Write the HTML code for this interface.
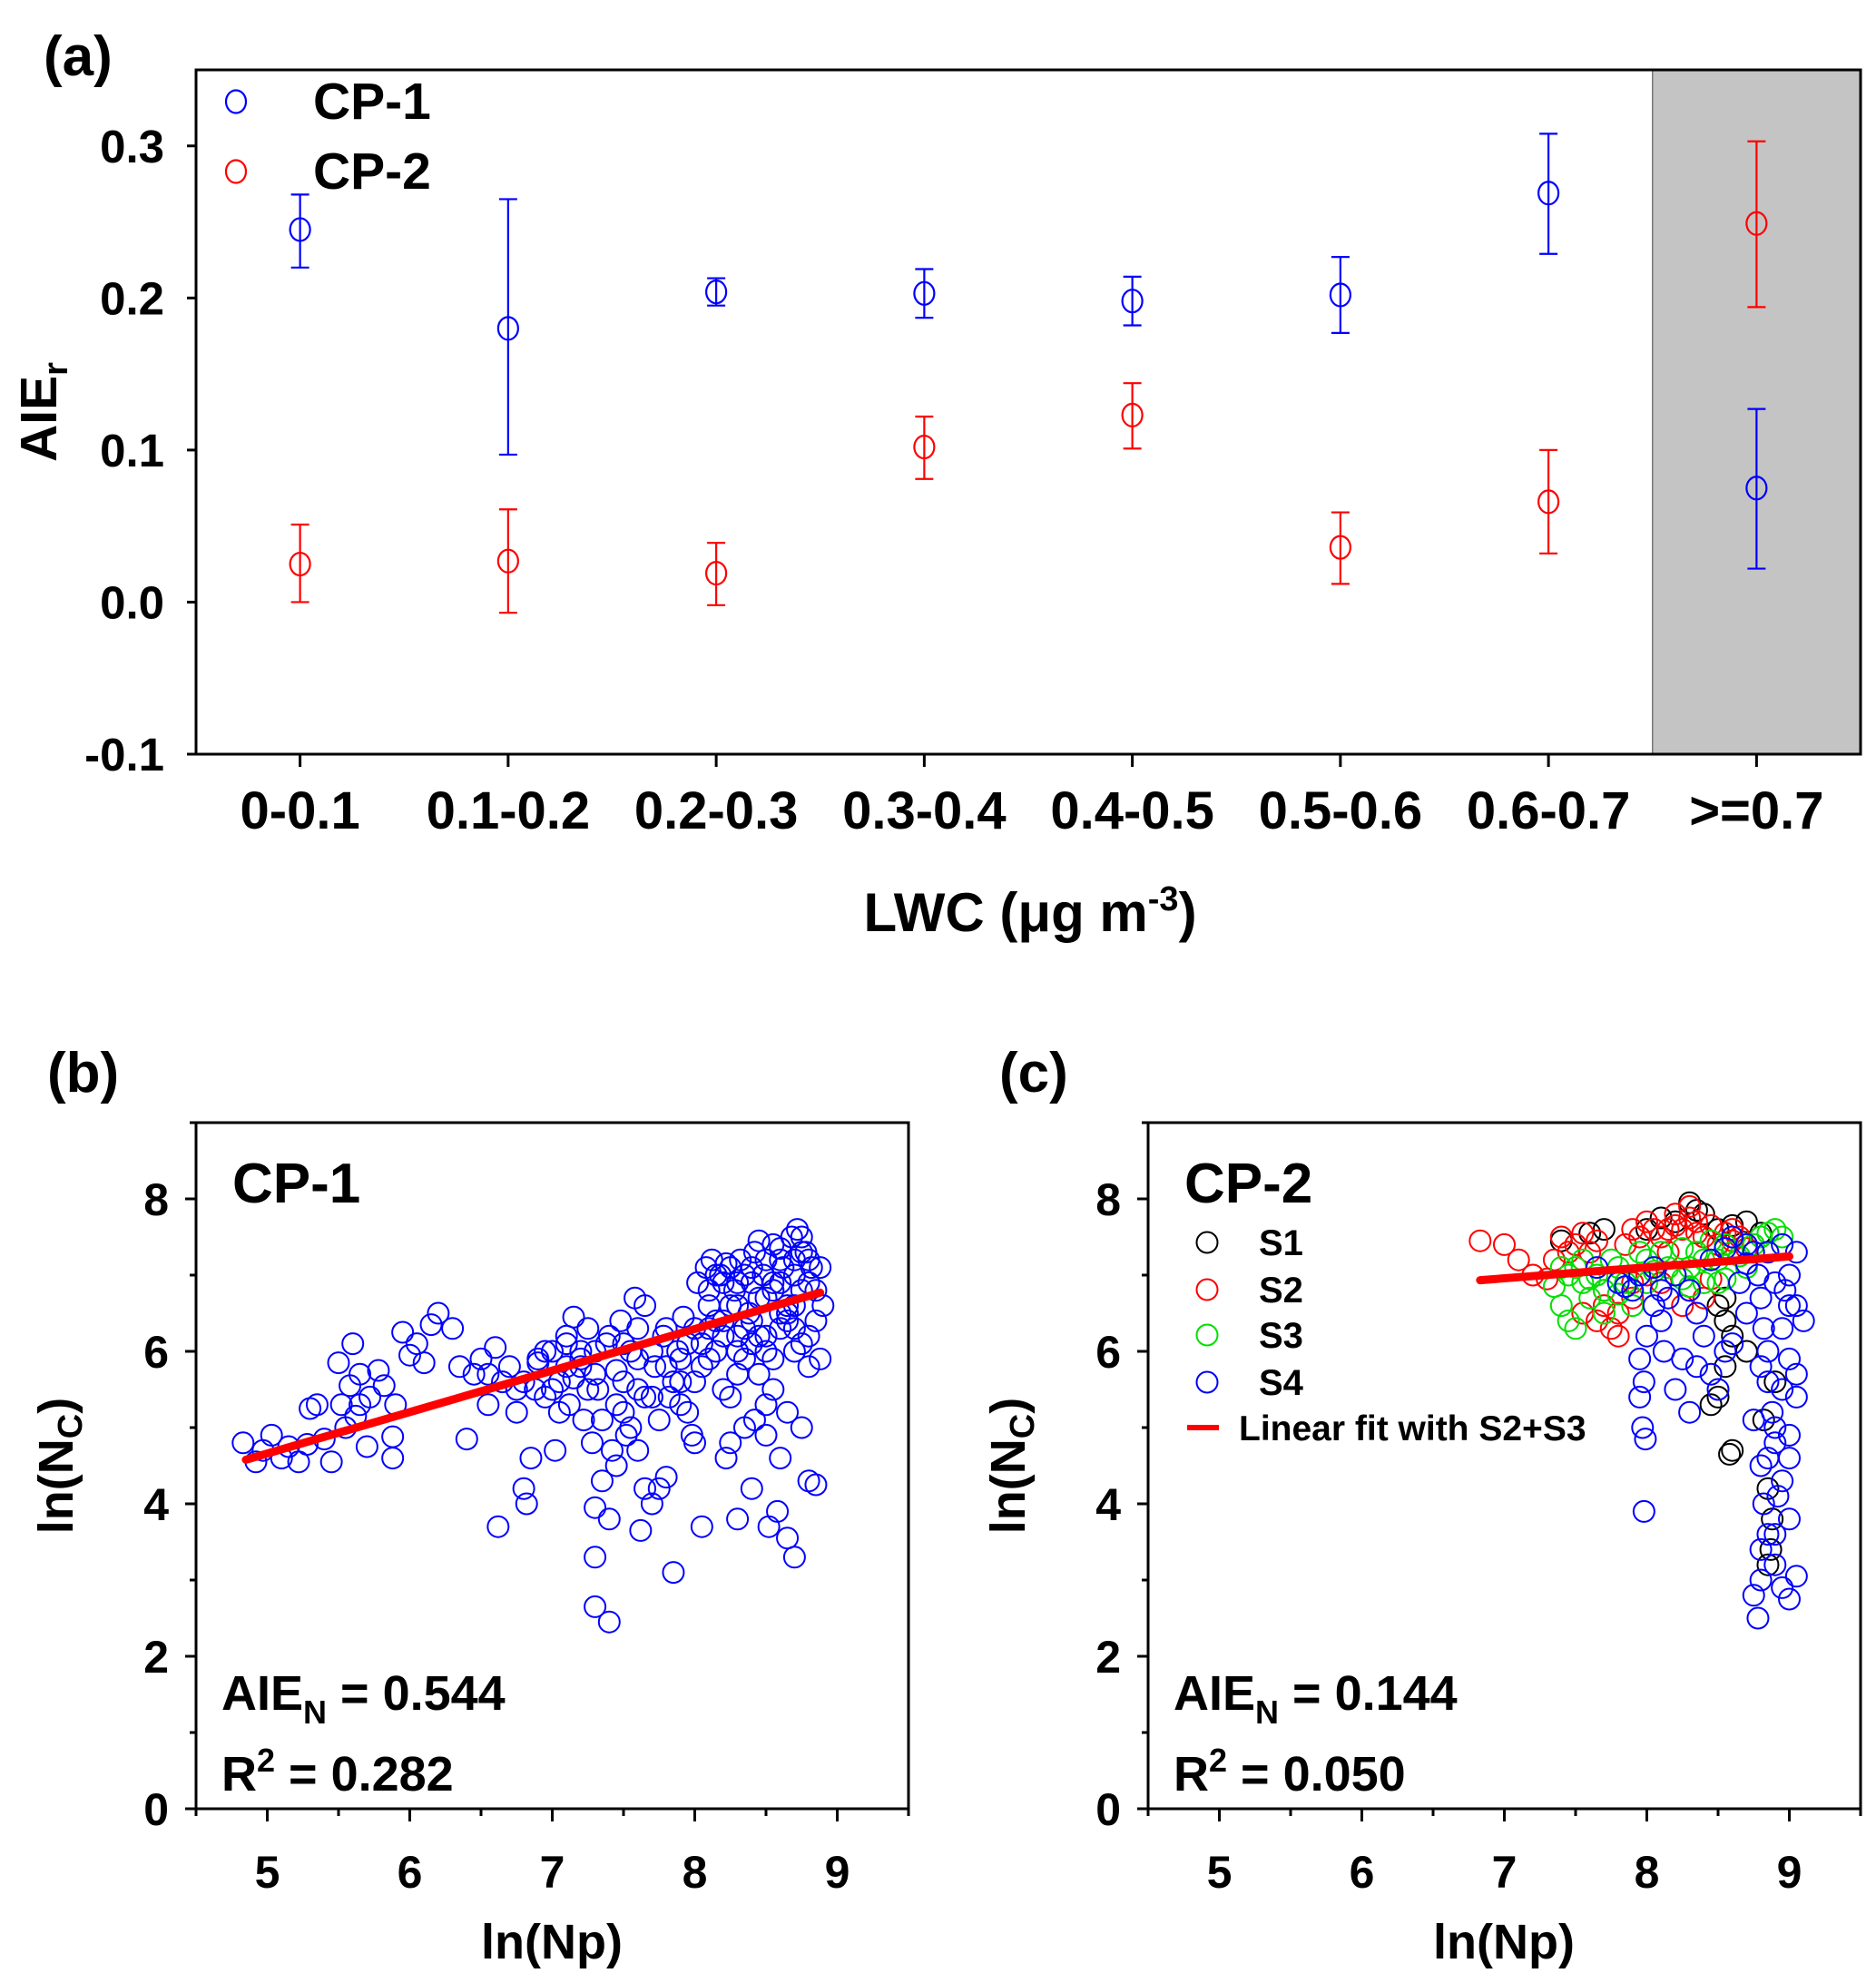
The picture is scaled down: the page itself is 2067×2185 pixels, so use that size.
<!DOCTYPE html>
<html><head><meta charset="utf-8"><style>
html,body{margin:0;padding:0;background:#fff}
svg{display:block}
text{font-family:"Liberation Sans",Arial,sans-serif;font-weight:bold;fill:#000}
</style></head><body>
<svg id="fig" width="2067" height="2185" viewBox="0 0 2067 2185" xmlns="http://www.w3.org/2000/svg">
<g id="pa"></g>
<g id="pb"></g>
<g id="pc"></g>
</svg>
<script>
// ---------- Panel (a) data ----------
const catsA = ["0-0.1","0.1-0.2","0.2-0.3","0.3-0.4","0.4-0.5","0.5-0.6","0.6-0.7",">=0.7"];
const cp1Val = [0.245,0.180,0.204,0.203,0.198,0.202,0.269,0.075];
const cp1Lo  = [0.220,0.097,0.195,0.187,0.182,0.177,0.229,0.022];
const cp1Hi  = [0.268,0.265,0.213,0.219,0.214,0.227,0.308,0.127];
const cp2Val = [0.025,0.027,0.019,0.102,0.123,0.036,0.066,0.249];
const cp2Lo  = [0.000,-0.007,-0.002,0.081,0.101,0.012,0.032,0.194];
const cp2Hi  = [0.051,0.061,0.039,0.122,0.144,0.059,0.100,0.303];
const yTicksA = [-0.1,0.0,0.1,0.2,0.3];
const yTickLabelsA = ["-0.1","0.0","0.1","0.2","0.3"];

// ---------- Panel (b) data ----------
const bX = [4.83,4.92,4.97,5.03,5.1,5.15,5.22,5.28,5.3,5.4,5.45,5.5,5.52,5.55,5.58,5.6,5.62,5.65,5.7,5.72,5.78,5.82,5.88,5.88,5.9,5.95,6.0,6.05,6.1,6.15,6.2,6.3,6.4,6.45,6.5,6.55,6.6,6.62,6.65,6.7,6.75,6.8,6.82,6.85,6.88,6.9,6.95,7.0,7.02,7.05,7.1,7.12,7.15,7.2,7.22,7.25,7.28,7.3,7.3,7.3,7.32,7.35,7.38,7.4,7.4,7.42,7.45,7.48,7.5,7.52,7.55,7.58,7.6,7.62,7.65,7.65,7.7,7.72,7.75,7.78,7.8,7.82,7.85,7.88,7.9,7.92,7.95,7.98,8.0,8.02,8.05,8.05,8.08,8.1,8.12,8.15,8.18,8.2,8.22,8.22,8.25,8.28,8.3,8.3,8.32,8.35,8.38,8.4,8.42,8.42,8.45,8.48,8.5,8.5,8.52,8.55,8.55,8.58,8.6,8.6,8.62,8.65,8.65,8.68,8.7,8.7,8.72,8.75,8.75,8.78,8.8,8.8,8.82,8.85,8.85,8.88,8.88,8.9,7.0,7.1,7.2,7.3,7.4,7.5,7.6,7.7,7.8,7.9,8.0,8.1,8.2,8.3,8.4,8.5,8.6,8.7,8.3,8.4,8.45,8.6,8.75,8.15,7.95,7.45,7.25,7.15,6.95,7.35,7.55,7.75,8.25,8.5,8.65,8.8,5.35,5.65,6.35,6.55,6.75,7.05,8.0,8.35,7.6,7.45,
  8.1,8.15,8.2,8.25,8.3,8.35,8.4,8.45,8.5,8.55,8.6,8.65,8.7,8.75,8.8,8.85,8.2,8.3,8.4,8.5,8.6,8.7,8.8,8.1,8.25,8.45,8.55,8.65,8.75,7.6,7.7,7.8,7.9,7.5,7.3,7.2,7.1,6.9,6.8,7.65,7.85,8.05,8.35,8.55,8.7];
const bY = [4.8,4.55,4.7,4.9,4.6,4.75,4.55,4.78,5.25,4.85,4.55,5.85,5.3,5.0,5.55,6.1,5.15,5.7,4.75,5.4,5.75,5.55,4.6,4.88,5.3,6.25,5.95,6.1,5.85,6.35,6.5,6.3,4.85,5.7,5.9,5.3,6.05,3.7,5.6,5.8,5.2,4.2,4.0,4.6,5.5,5.85,5.4,6.0,4.7,5.6,6.2,5.3,6.45,5.9,5.1,6.3,4.8,3.95,3.3,2.65,5.5,4.3,6.1,2.45,3.8,4.7,5.75,6.4,5.2,4.9,6.0,6.7,5.5,3.65,4.2,6.6,4.0,5.8,4.2,6.2,4.35,5.4,3.1,6.0,5.6,6.45,5.2,4.9,6.3,6.9,3.7,5.8,7.1,6.6,7.2,6.0,7.0,5.5,4.6,7.15,4.8,6.8,3.8,6.2,7.2,5.9,6.5,4.2,5.1,7.3,5.7,7.0,4.9,6.7,3.7,5.5,7.4,3.9,6.3,4.6,7.1,3.55,5.2,7.5,3.3,6.0,7.6,5.0,6.8,7.3,5.8,4.3,7.1,6.4,4.25,7.1,5.9,6.6,5.5,5.8,6.0,5.7,6.2,5.6,5.9,5.4,5.8,5.3,5.6,5.9,6.4,5.7,6.1,6.0,6.9,7.2,6.6,6.9,7.45,7.35,7.5,6.4,6.1,5.3,5.5,5.65,6.0,5.1,5.0,5.1,5.4,5.3,6.5,6.2,5.3,5.3,5.8,5.7,5.5,5.2,4.8,5.0,4.7,4.5,
  6.8,7.0,6.9,7.1,6.9,7.0,7.1,6.7,7.2,6.9,7.2,6.6,7.0,7.3,7.2,6.8,6.2,6.0,6.4,6.2,6.5,6.3,6.9,6.3,6.6,6.2,6.8,6.4,6.1,6.3,6.0,6.3,5.9,6.1,6.0,5.8,6.1,5.9,5.6,5.4,5.6,6.1,6.3,5.9,6.6];
const bFitSlope = 0.544;
const bFitIntercept = 1.94;
const bFitRange = [4.85, 8.88];

// ---------- Panel (c) data ----------
const s1X = [7.4,7.6,7.7,8.0,8.2,8.3,8.4,8.5,8.7,8.8,8.5,8.55,8.55,8.6,8.55,8.45,8.5,8.6,8.58,8.82,8.85,8.88,8.87,8.85,8.9,8.7,8.1,8.35,8.6];
const s1Y = [7.45,7.55,7.6,7.6,7.7,7.95,7.8,7.6,7.7,7.55,6.6,6.4,6.7,6.2,5.8,5.3,5.4,4.7,4.65,5.1,4.2,3.8,3.4,3.2,5.6,6.0,7.75,7.85,7.65];
const s2X = [6.83,7.0,7.1,7.2,7.3,7.4,7.5,7.6,7.7,7.75,7.8,7.9,8.0,8.1,8.2,8.25,8.3,8.35,8.4,8.5,8.6,8.7,8.1,8.3,8.0,7.55,7.65,7.9,8.45,7.35,8.55,8.15,
  7.45,7.55,7.65,7.85,7.95,8.05,8.2,8.3,8.35,8.45,8.6,8.65,7.7,7.8,7.9,8.25,8.4,8.15];
const s2Y = [7.45,7.4,7.2,7.0,6.95,7.5,7.4,7.3,6.6,6.3,6.2,7.6,7.7,7.5,7.8,7.6,7.9,7.7,7.5,7.4,7.6,7.35,6.9,6.8,7.0,6.5,6.4,6.7,6.95,7.2,7.55,7.3,
  7.3,7.55,7.45,7.4,7.5,7.6,7.65,7.75,7.55,7.65,7.45,7.5,6.8,6.5,6.9,6.6,6.7,7.6];
const s3X = [7.35,7.4,7.45,7.5,7.55,7.6,7.65,7.7,7.8,7.85,7.9,8.0,8.1,8.2,8.3,8.35,8.4,8.5,8.6,8.7,8.8,8.9,8.95,7.5,7.75,8.25,8.45,8.55,7.45,8.05,
  7.4,7.55,7.7,7.8,7.95,8.15,8.25,8.4,8.55,8.65,8.75,8.85,7.6,8.0,8.3,8.5];
const s3Y = [6.85,6.6,6.4,7.1,6.9,6.7,7.0,6.5,7.1,6.9,6.6,7.2,7.3,7.0,7.1,7.3,6.9,7.2,7.3,7.1,7.5,7.6,7.5,6.3,7.2,6.95,7.45,6.95,7.0,7.05,
  7.1,7.2,6.8,6.75,7.3,7.1,7.35,7.2,7.4,7.25,7.4,7.55,6.95,6.9,6.85,6.9];
const s4X = [7.65,7.8,7.9,7.95,8.0,7.95,7.98,7.95,7.97,7.99,7.98,8.05,8.1,8.12,8.15,8.2,8.25,8.3,8.3,8.35,8.4,8.45,8.5,8.55,8.6,8.75,8.78,8.8,8.82,8.85,8.85,8.88,8.9,8.75,8.8,8.82,8.85,8.8,8.75,8.78,8.9,8.95,9.0,9.05,9.0,8.95,9.0,9.05,9.0,8.95,9.05,9.0,9.05,8.95,9.1,9.05,8.7,8.6,8.9,8.92,8.8,8.97,8.65,8.7,
  7.85,8.05,8.2,8.45,8.55,8.7,8.85,8.9,9.0,8.95,8.85,8.9,8.8,9.0,8.1,8.35];
const s4Y = [7.1,6.9,6.8,7.0,6.2,5.9,5.6,5.4,5.0,4.85,3.9,6.6,6.4,6.0,6.7,5.5,5.9,5.2,6.8,6.5,6.2,5.7,5.5,6.0,6.1,7.3,7.0,6.7,6.3,6.0,5.6,5.2,4.8,5.1,4.5,4.0,3.6,3.0,2.8,2.5,3.2,2.9,2.75,3.05,3.8,4.3,4.9,5.4,5.9,6.3,6.6,7.0,7.3,7.4,6.4,5.7,7.4,7.5,5.0,4.1,3.4,6.8,6.9,6.5,
  6.85,7.1,7.0,7.2,7.35,7.15,7.3,6.9,6.6,5.5,4.6,3.6,5.8,4.6,6.8,5.8];
const cFitSlope = 0.144;
const cFitIntercept = 5.95;
const cFitRange = [6.83, 9.0];

const yTicksBC = [0,2,4,6,8];
const xTicksBC = [5,6,7,8,9];

const NS = "http://www.w3.org/2000/svg";
function mk(parent, tag, attrs, txt){
  const e = document.createElementNS(NS, tag);
  for (const k in attrs) e.setAttribute(k, attrs[k]);
  if (txt !== undefined) e.textContent = txt;
  parent.appendChild(e);
  return e;
}

// ================= Panel (a) =================
(function(){
  const g = document.getElementById('pa');
  const L=216,R=2050,T=77,B=831;
  const xA = i => L + (i+0.5)*(R-L)/8;
  const yA = v => B - (v+0.1)*(B-T)/0.45;
  let e;
  e = mk(g,'rect',{x:xA(6.5),y:T,width:R-xA(6.5),height:B-T,fill:'#c4c4c4',stroke:'#777','stroke-width':1.5});
  
  
  e = mk(g,'rect',{x:L,y:T,width:R-L,height:B-T,fill:'none',stroke:'#000','stroke-width':3});
  
  
  yTicksA.forEach((v,i)=>{
    const t = mk(g,'line',{x1:L-10,x2:L,y1:yA(v),y2:yA(v),stroke:'#000','stroke-width':3});
    
    
    const lb = mk(g,'text',{x:L-35,y:yA(v)+18,'font-size':51,'text-anchor':'end'},yTickLabelsA[i]);
    
    
  });
  catsA.forEach((c,i)=>{
    const t = mk(g,'line',{x1:xA(i),x2:xA(i),y1:B,y2:B+14,stroke:'#000','stroke-width':3});
    
    
    const lb = mk(g,'text',{x:xA(i),y:913,'font-size':58,'text-anchor':'middle'},c);
    
    
  });
  function series(vals,lo,hi,col,name){
    vals.forEach((v,i)=>{
      const x=xA(i);
      const eb = mk(g,'path',{d:`M${x},${yA(lo[i])}V${yA(hi[i])}M${x-10},${yA(lo[i])}H${x+10}M${x-10},${yA(hi[i])}H${x+10}`,stroke:col,'stroke-width':2.2,fill:'none'});
      
      
      const p = mk(g,'ellipse',{cx:x,cy:yA(v),rx:11,ry:12.5,fill:'none',stroke:col,'stroke-width':2.2});
      
      
    });
  }
  series(cp1Val,cp1Lo,cp1Hi,'#0000ff','cp1');
  series(cp2Val,cp2Lo,cp2Hi,'#ff0000','cp2');
  e = mk(g,'ellipse',{cx:260,cy:112,rx:11,ry:12.5,fill:'none',stroke:'#0000ff','stroke-width':2.2});
  
  
  e = mk(g,'text',{x:345,y:131,'font-size':57},'CP-1');
  
  
  e = mk(g,'ellipse',{cx:260,cy:189,rx:11,ry:12.5,fill:'none',stroke:'#ff0000','stroke-width':2.2});
  
  
  e = mk(g,'text',{x:345,y:208,'font-size':57},'CP-2');
  
  
  e = mk(g,'text',{x:48,y:83,'font-size':62},'(a)');
  
  
  e = mk(g,'text',{x:1135,y:1026,'font-size':60,'text-anchor':'middle'});
  
  
  e.innerHTML = 'LWC (μg m<tspan font-size="38" dy="-23">-3</tspan><tspan dy="23">)</tspan>';
  e = mk(g,'text',{transform:'translate(62,454) rotate(-90)','font-size':57,'text-anchor':'middle'});
  
  
  e.innerHTML = 'AIE<tspan font-size="38" dy="12">r</tspan>';
})();

// ================= Panels (b) and (c) =================
function scatterPanel(gid, L, tag, cpText, aie, r2, seriesList, fit, legend){
  const g = document.getElementById(gid);
  const R=L+785, T=1237, B=1993;
  const xS = v => L + (v-4.5)*(R-L)/5;
  const yS = v => B - v*(B-T)/9;
  let e;
  e = mk(g,'rect',{x:L,y:T,width:R-L,height:B-T,fill:'none',stroke:'#000','stroke-width':3});
  
  
  for(let v=0; v<=9; v++){
    const major = yTicksBC.includes(v);
    const t = mk(g,'line',{x1:L-(major?12:7),x2:L,y1:yS(v),y2:yS(v),stroke:'#000','stroke-width':3});
    
    
  }
  yTicksBC.forEach(v=>{
    const lb = mk(g,'text',{x:L-30,y:yS(v)+18,'font-size':50,'text-anchor':'end'},String(v));
    
    
  });
  for(let v=4.5; v<=9.5; v+=0.5){
    const major = xTicksBC.includes(v);
    const t = mk(g,'line',{x1:xS(v),x2:xS(v),y1:B,y2:B+(major?14:8),stroke:'#000','stroke-width':3});
    
    
  }
  xTicksBC.forEach(v=>{
    const lb = mk(g,'text',{x:xS(v),y:2080,'font-size':50,'text-anchor':'middle'},String(v));
    
    
  });
  seriesList.forEach(s=>{
    s.x.forEach((xv,i)=>{
      const c = mk(g,'circle',{cx:xS(xv),cy:yS(s.y[i]),r:11.5,fill:'none',stroke:s.color,'stroke-width':2});
      
      
    });
  });
  e = mk(g,'line',{x1:xS(fit.range[0]),y1:yS(fit.b+fit.m*fit.range[0]),x2:xS(fit.range[1]),y2:yS(fit.b+fit.m*fit.range[1]),stroke:'#ff0000','stroke-width':9,'stroke-linecap':'round'});
  
  
  e = mk(g,'text',{x:L+40,y:1325,'font-size':62},cpText);
  
  
  e = mk(g,'text',{x:L+28,y:1884,'font-size':54});
  
  
  e.innerHTML = 'AIE<tspan font-size="36" dy="15">N</tspan><tspan dy="-15"> = '+aie+'</tspan>';
  e = mk(g,'text',{x:L+28,y:1973,'font-size':54});
  
  
  e.innerHTML = 'R<tspan font-size="36" dy="-21">2</tspan><tspan dy="21"> = '+r2+'</tspan>';
  e = mk(g,'text',{x:L-164,y:1203,'font-size':62},'('+tag+')');
  
  
  e = mk(g,'text',{x:L+392,y:2158,'font-size':54,'text-anchor':'middle'},'ln(Np)');
  
  
  e = mk(g,'text',{transform:`translate(${L-136},1615) rotate(-90)`,'font-size':54,'text-anchor':'middle'});
  
  
  e.innerHTML = 'ln(N<tspan font-size="38" dy="10">C</tspan><tspan dy="-10">)</tspan>';
  if(legend){
    const ly=[1369,1421,1471,1523];
    legend.forEach((s,i)=>{
      const c = mk(g,'circle',{cx:1330,cy:ly[i],r:11.5,fill:'none',stroke:s.color,'stroke-width':2});
      
      
      const t = mk(g,'text',{x:1387,y:ly[i]+14,'font-size':40},s.label);
      
      
    });
    e = mk(g,'line',{x1:1308,x2:1343,y1:1573,y2:1573,stroke:'#ff0000','stroke-width':6});
    
    
    e = mk(g,'text',{x:1365,y:1587,'font-size':39},'Linear fit with S2+S3');
    
    
  }
}
scatterPanel('pb',216,'b','CP-1','0.544','0.282',
  [{x:bX,y:bY,color:'#0000ff',name:'cp1'}],
  {m:bFitSlope,b:bFitIntercept,range:bFitRange}, null);
const cSeries = [
  {x:s1X,y:s1Y,color:'#000000',name:'s1',label:'S1'},
  {x:s2X,y:s2Y,color:'#ff0000',name:'s2',label:'S2'},
  {x:s3X,y:s3Y,color:'#00e000',name:'s3',label:'S3'},
  {x:s4X,y:s4Y,color:'#0000ff',name:'s4',label:'S4'}];
scatterPanel('pc',1265,'c','CP-2','0.144','0.050',cSeries,
  {m:cFitSlope,b:cFitIntercept,range:cFitRange}, cSeries);
</script>
</body></html>
